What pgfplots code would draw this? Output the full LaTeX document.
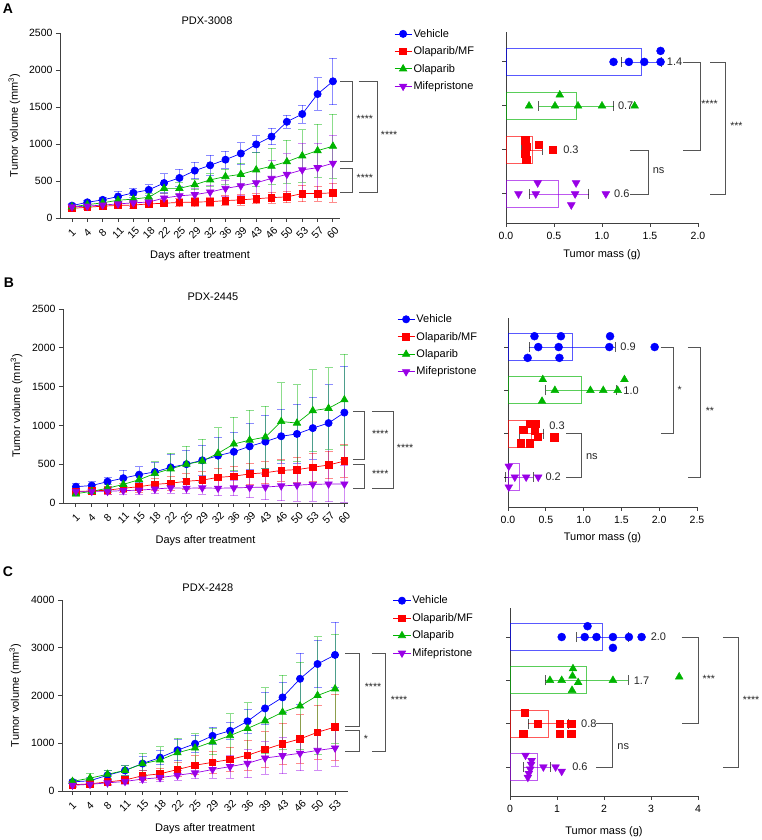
\documentclass[border=0pt]{standalone}
\usepackage{fontspec}
\setmainfont{Liberation Sans}
\usepackage{pgfplots}
\usepackage{pgfplotstable}
\pgfplotsset{compat=1.18}
\definecolor{cveh}{RGB}{0,0,255}
\definecolor{cmf}{RGB}{255,0,0}
\definecolor{cola}{RGB}{0,180,0}
\definecolor{cmife}{RGB}{153,0,230}
\definecolor{cbr}{RGB}{85,85,85}

\pgfplotstableread{
i veh vehsd mf mfsd ola olasd mife mifesd
0 167 25 130 30 150 30 150 30
1 212 25 145 30 180 30 160 30
2 245 35 160 35 205 35 175 35
3 290 70 170 40 240 40 190 40
4 340 60 175 40 255 45 205 45
5 380 70 190 45 280 50 215 50
6 473 126 200 50 400 70 270 60
7 541 120 210 55 400 80 300 70
8 640 112 215 60 450 70 315 80
9 712 139 220 60 515 85 350 90
10 788 113 235 65 560 100 400 110
11 872 145 245 70 590 150 435 130
12 995 115 260 70 650 230 475 170
13 1100 112 275 75 700 240 535 240
14 1300 90 285 80 760 290 590 280
15 1405 122 330 110 840 355 650 360
16 1675 220 330 100 910 360 680 330
17 1847 315 340 130 970 435 740 380
}\dataA

\pgfplotstableread{
i veh vehsd mf mfsd ola olasd mife mifesd
0 210 40 150 30 120 30 150 30
1 225 50 155 40 150 40 150 30
2 275 60 165 50 190 50 150 40
3 320 100 190 60 240 60 160 50
4 365 105 210 70 300 80 165 50
5 400 120 240 80 380 150 180 60
6 460 170 255 90 440 200 195 70
7 500 180 280 100 500 230 190 70
8 550 195 295 110 540 280 195 80
9 610 240 330 120 640 330 190 95
10 660 250 345 130 760 345 195 100
11 730 295 375 140 810 385 200 130
12 790 340 390 140 850 400 205 165
13 860 345 420 140 1050 500 220 190
14 890 380 430 160 1030 495 230 210
15 965 400 460 180 1190 525 240 215
16 1030 495 490 180 1220 525 245 230
17 1165 600 540 210 1330 585 245 235
}\dataB

\pgfplotstableread{
i veh vehsd mf mfsd ola olasd mife mifesd
0 190 40 130 40 200 50 120 40
1 215 60 150 50 270 100 140 50
2 330 90 190 60 350 90 170 60
3 430 100 230 70 430 100 200 70
4 575 150 320 100 570 220 250 80
5 700 150 360 120 650 280 280 90
6 855 220 450 150 800 300 330 100
7 990 180 540 200 900 300 380 120
8 1155 175 600 230 1030 270 450 180
9 1260 180 660 260 1160 460 510 240
10 1460 250 750 310 1310 540 580 300
11 1730 340 870 370 1470 690 690 340
12 1960 320 990 430 1650 780 740 380
13 2350 540 1090 510 1780 920 790 370
14 2660 500 1230 570 2000 1230 850 410
15 2850 680 1340 690 2140 1140 900 380
}\dataC

\pgfplotsset{
  base/.style={scale only axis, anchor=south west, axis lines=left,
    axis line style={-, line width=0.9pt, black!75},
    tick style={line width=0.9pt, black!75}, tick align=outside, major tick length=4pt,
    tick label style={font=\fontsize{10.5}{12}\selectfont},
    label style={font=\fontsize{11}{13}\selectfont},
    clip=false,
    /pgf/number format/assume math mode=true, /pgf/number format/1000 sep={}},
  linep/.style={base, ymin=0,
    xlabel={Days after treatment}, ylabel={Tumor volume (mm\textsuperscript{3})},
    xlabel style={at={(axis description cs:0.5,0)}, anchor=center, yshift=-38pt},
    ylabel style={at={(axis description cs:-0.163,0.5)}, anchor=center, rotate=0},
    x tick label style={rotate=45, anchor=center, xshift=-7.5pt, yshift=-7.5pt},
    title style={anchor=base, yshift=2pt, font=\fontsize{11}{13}\selectfont},
    legend cell align=left,
    legend style={anchor=north west, draw=none, fill=none, inner sep=0pt,
      font=\fontsize{11}{13}\selectfont, row sep=5pt, nodes={inner sep=1.5pt}}},
  barp/.style={base, ytick={0,1,2,3}, yticklabels={,,,,}, xmin=0,
    x tick label style={yshift=-2pt},
    xlabel={Tumor mass (g)},
    xlabel style={at={(axis description cs:0.5,0)}, anchor=center}},
  sveh/.style={color=cveh, line width=0.7pt, mark=*, mark size=3.6pt, mark options={solid, fill=cveh},
    error bars/.cd, y dir=both, y explicit, error bar style={line width=0.9pt, draw opacity=0.45},
    error mark options={rotate=90, line width=0.9pt, mark size=4pt, draw opacity=0.45}},
  smf/.style={color=cmf, line width=0.7pt, mark=square*, mark size=3.3pt, mark options={solid, fill=cmf},
    error bars/.cd, y dir=both, y explicit, error bar style={line width=0.9pt, draw opacity=0.45},
    error mark options={rotate=90, line width=0.9pt, mark size=4pt, draw opacity=0.45}},
  sola/.style={color=cola, line width=0.7pt, mark=triangle*, mark size=4.2pt, mark options={solid, fill=cola},
    error bars/.cd, y dir=both, y explicit, error bar style={line width=0.9pt, draw opacity=0.45},
    error mark options={rotate=90, line width=0.9pt, mark size=4pt, draw opacity=0.45}},
  smife/.style={color=cmife, line width=0.7pt, mark=triangle*, mark size=4.2pt, mark options={solid, fill=cmife, rotate=180},
    error bars/.cd, y dir=both, y explicit, error bar style={line width=0.9pt, draw opacity=0.45},
    error mark options={rotate=90, line width=0.9pt, mark size=4pt, draw opacity=0.45}},
  bbar/.style={xbar, bar shift=0pt, bar width=27pt, draw=#1, draw opacity=0.65, fill=none, line width=0.8pt,
    error bars/.cd, x dir=both, x explicit, error bar style={line width=0.8pt, draw opacity=0.65},
    error mark options={rotate=90, line width=0.8pt, mark size=5pt, draw opacity=0.65}},
  bpt/.style={only marks, color=#1, mark options={solid, fill=#1}},
}
\tikzset{sig/.style={font=\fontsize{10.5}{12}\selectfont, text=black!85},
  brk/.style={cbr, line width=0.8pt}}

\begin{document}
\begin{tikzpicture}
\path[use as bounding box] (0,0) rectangle (762pt,840pt);
\node[font=\fontsize{14}{16}\selectfont\bfseries] at (8pt,831pt) {A};
\node[font=\fontsize{14}{16}\selectfont\bfseries] at (9pt,557pt) {B};
\node[font=\fontsize{14}{16}\selectfont\bfseries] at (8pt,268pt) {C};

% ---------------- A line ----------------
\begin{axis}[linep, at={(60pt,622pt)}, width=280pt, height=185pt,
  xmin=-0.78, xmax=17.46, ymax=2500, ytick={0,500,...,2500},
  xtick={0,...,17}, xticklabels={1,4,8,11,15,18,22,25,29,32,36,39,43,46,50,53,57,60},
  title={PDX-3008}, title style={at={(axis description cs:0.525,1)}},
  legend style={at={(1.193,1.03)}}]
\addplot[sveh] table[x=i, y=veh, y error=vehsd]{\dataA}; \addlegendentry{Vehicle}
\addplot[smf] table[x=i, y=mf, y error=mfsd]{\dataA}; \addlegendentry{Olaparib/MF}
\addplot[sola] table[x=i, y=ola, y error=olasd]{\dataA}; \addlegendentry{Olaparib}
\addplot[smife] table[x=i, y=mife, y error=mifesd]{\dataA}; \addlegendentry{Mifepristone}
\draw[brk] (axis cs:17.46,1845) -- (axis cs:18.24,1845) -- (axis cs:18.24,760) -- (axis cs:17.46,760);
\draw[brk] (axis cs:17.46,675) -- (axis cs:18.24,675) -- (axis cs:18.24,345) -- (axis cs:17.46,345);
\draw[brk] (axis cs:18.69,1845) -- (axis cs:19.87,1845) -- (axis cs:19.87,345) -- (axis cs:18.69,345);
\node[sig] at (axis cs:19.08,1338) {****};
\node[sig] at (axis cs:19.08,540) {****};
\node[sig] at (axis cs:20.66,1121) {****};
\end{axis}

% ---------------- A bar ----------------
\begin{axis}[barp, at={(506pt,617pt)}, width=192pt, height=191pt,
  xmax=2, ymin=-0.66, ymax=3.68, xtick={0,0.5,...,2},
  xticklabel style={/pgf/number format/fixed, /pgf/number format/precision=1, /pgf/number format/fixed zerofill},
  xlabel style={yshift=-32pt}]
\addplot[bbar=cveh] coordinates {(1.41,3) +- (0.21,0)};
\addplot[bbar=cola] coordinates {(0.73,2) +- (0.39,0)};
\addplot[bbar=cmf] coordinates {(0.27,1) +- (0.11,0)};
\addplot[bbar=cmife] coordinates {(0.55,0) +- (0.31,0)};
\addplot[bpt=cveh, mark=*, mark size=4pt] coordinates {(1.12,3) (1.28,3) (1.44,3) (1.61,3) (1.61,3.25)};
\addplot[bpt=cola, mark=triangle*, mark size=4.5pt] coordinates {(0.24,2) (0.56,2.25) (0.51,2) (0.75,2) (1.0,2) (1.34,2)};
\addplot[bpt=cmf, mark=square*, mark size=3.6pt] coordinates {(0.2,1.22) (0.21,1.08) (0.2,0.92) (0.21,0.78) (0.34,1.12) (0.49,1.0)};
\addplot[bpt=cmife, mark=triangle*, mark size=4.5pt, mark options={rotate=180}] coordinates {(0.13,0) (0.33,0.25) (0.31,0) (0.73,0.25) (0.72,0) (0.68,-0.25) (1.04,0)};
\node[sig, anchor=west, font=\fontsize{11}{13}\selectfont] at (axis cs:1.64,3) {1.4};
\node[sig, anchor=west, font=\fontsize{11}{13}\selectfont] at (axis cs:1.13,2) {0.7};
\node[sig, anchor=west, font=\fontsize{11}{13}\selectfont] at (axis cs:0.56,1) {0.3};
\node[sig, anchor=west, font=\fontsize{11}{13}\selectfont] at (axis cs:1.09,0) {0.6};
\draw[brk] (axis cs:1.84,3) -- (axis cs:2.02,3) -- (axis cs:2.02,1) -- (axis cs:1.84,1);
\draw[brk] (axis cs:2.13,3) -- (axis cs:2.29,3) -- (axis cs:2.29,0) -- (axis cs:2.13,0);
\draw[brk] (axis cs:1.29,1) -- (axis cs:1.48,1) -- (axis cs:1.48,0) -- (axis cs:1.29,0);
\node[sig] at (axis cs:2.12,2.05) {****};
\node[sig] at (axis cs:2.40,1.55) {***};
\node[sig, font=\fontsize{11}{13}\selectfont] at (axis cs:1.59,0.52) {ns};
\end{axis}

% ---------------- B line ----------------
\begin{axis}[linep, at={(63pt,337pt)}, width=285pt, height=194pt,
  xmin=-0.82, xmax=17.23, ymax=2500, ytick={0,500,...,2500},
  xtick={0,...,17}, xticklabels={1,4,8,11,15,18,22,25,29,32,36,39,43,46,50,53,57,60},
  title={PDX-2445}, title style={at={(axis description cs:0.526,1)}},
  legend style={at={(1.172,0.98)}}]
\addplot[sveh] table[x=i, y=veh, y error=vehsd]{\dataB}; \addlegendentry{Vehicle}
\addplot[smf] table[x=i, y=mf, y error=mfsd]{\dataB}; \addlegendentry{Olaparib/MF}
\addplot[sola] table[x=i, y=ola, y error=olasd]{\dataB}; \addlegendentry{Olaparib}
\addplot[smife] table[x=i, y=mife, y error=mifesd]{\dataB}; \addlegendentry{Mifepristone}
\draw[brk] (axis cs:17.55,1180) -- (axis cs:18.25,1180) -- (axis cs:18.25,560) -- (axis cs:17.55,560);
\draw[brk] (axis cs:17.55,500) -- (axis cs:18.25,500) -- (axis cs:18.25,193) -- (axis cs:17.55,193);
\draw[brk] (axis cs:18.76,1180) -- (axis cs:20.09,1180) -- (axis cs:20.09,193) -- (axis cs:18.76,193);
\node[sig] at (axis cs:19.27,889) {****};
\node[sig] at (axis cs:19.27,374) {****};
\node[sig] at (axis cs:20.85,709) {****};
\end{axis}

% ---------------- B bar ----------------
\begin{axis}[barp, at={(508pt,333pt)}, width=189pt, height=189pt,
  xmax=2.5, ymin=-0.69, ymax=3.67, xtick={0,0.5,...,2.5},
  xticklabel style={/pgf/number format/fixed, /pgf/number format/precision=1, /pgf/number format/fixed zerofill},
  xlabel style={yshift=-31pt}]
\addplot[bbar=cveh] coordinates {(0.85,3) +- (0.57,0)};
\addplot[bbar=cola] coordinates {(0.97,2) +- (0.47,0)};
\addplot[bbar=cmf] coordinates {(0.31,1) +- (0.16,0)};
\addplot[bbar=cmife] coordinates {(0.15,0) +- (0.18,0)};
\addplot[bpt=cveh, mark=*, mark size=4pt] coordinates {(0.26,2.75) (0.35,3.25) (0.40,3) (0.67,3) (0.70,3.25) (0.68,2.75) (1.34,3) (1.35,3.25) (1.94,3)};
\addplot[bpt=cola, mark=triangle*, mark size=4.5pt] coordinates {(0.46,2.25) (0.45,1.75) (0.62,2) (1.09,2) (1.26,2) (1.45,2) (1.54,2.25)};
\addplot[bpt=cmf, mark=square*, mark size=3.6pt] coordinates {(0.29,1.24) (0.37,1.24) (0.20,1.1) (0.35,1.08) (0.39,0.93) (0.17,0.78) (0.29,0.78) (0.61,0.92)};
\addplot[bpt=cmife, mark=triangle*, mark size=4.5pt, mark options={rotate=180}] coordinates {(0.01,0.25) (0.09,0) (0.24,0) (0.40,0) (0.01,-0.23)};
\node[sig, anchor=west, font=\fontsize{11}{13}\selectfont] at (axis cs:1.44,3) {0.9};
\node[sig, anchor=west, font=\fontsize{11}{13}\selectfont] at (axis cs:1.48,2) {1.0};
\node[sig, anchor=west, font=\fontsize{11}{13}\selectfont] at (axis cs:0.50,1.19) {0.3};
\node[sig, anchor=west, font=\fontsize{11}{13}\selectfont] at (axis cs:0.45,0) {0.2};
\draw[brk] (axis cs:2.02,3) -- (axis cs:2.19,3) -- (axis cs:2.19,1) -- (axis cs:2.02,1);
\draw[brk] (axis cs:2.38,3) -- (axis cs:2.55,3) -- (axis cs:2.55,0) -- (axis cs:2.38,0);
\draw[brk] (axis cs:0.77,1) -- (axis cs:0.97,1) -- (axis cs:0.97,0) -- (axis cs:0.77,0);
\node[sig] at (axis cs:2.27,2.0) {*};
\node[sig] at (axis cs:2.67,1.52) {**};
\node[sig, font=\fontsize{11}{13}\selectfont] at (axis cs:1.11,0.48) {ns};
\end{axis}

% ---------------- C line ----------------
\begin{axis}[linep, at={(62pt,49pt)}, width=286pt, height=191pt,
  xmin=-0.6, xmax=15.74, ymax=4000, ytick={0,1000,...,4000},
  xtick={0,...,15}, xticklabels={1,4,8,11,15,18,22,25,29,32,36,39,43,46,50,53},
  title={PDX-2428}, title style={at={(axis description cs:0.51,1)}},
  legend style={at={(1.157,1.03)}}]
\addplot[sveh] table[x=i, y=veh, y error=vehsd]{\dataC}; \addlegendentry{Vehicle}
\addplot[smf] table[x=i, y=mf, y error=mfsd]{\dataC}; \addlegendentry{Olaparib/MF}
\addplot[sola] table[x=i, y=ola, y error=olasd]{\dataC}; \addlegendentry{Olaparib}
\addplot[smife] table[x=i, y=mife, y error=mifesd]{\dataC}; \addlegendentry{Mifepristone}
\draw[brk] (axis cs:15.57,2880) -- (axis cs:16.37,2880) -- (axis cs:16.37,1357) -- (axis cs:15.57,1357);
\draw[brk] (axis cs:15.57,1259) -- (axis cs:16.37,1259) -- (axis cs:16.37,839) -- (axis cs:15.57,839);
\draw[brk] (axis cs:17.11,2880) -- (axis cs:17.86,2880) -- (axis cs:17.86,839) -- (axis cs:17.11,839);
\node[sig] at (axis cs:17.17,2178) {****};
\node[sig] at (axis cs:16.77,1089) {*};
\node[sig] at (axis cs:18.66,1905) {****};
\end{axis}

% ---------------- C bar ----------------
\begin{axis}[barp, at={(510pt,44pt)}, width=188pt, height=188pt,
  xmax=4, ymin=-0.67, ymax=3.67, xtick={0,1,2,3,4},
  xlabel style={yshift=-36pt}]
\addplot[bbar=cveh] coordinates {(1.97,3) +- (0.55,0)};
\addplot[bbar=cola] coordinates {(1.63,2) +- (0.88,0)};
\addplot[bbar=cmf] coordinates {(0.82,1) +- (0.43,0)};
\addplot[bbar=cmife] coordinates {(0.58,0) +- (0.29,0)};
\addplot[bpt=cveh, mark=*, mark size=4pt] coordinates {(1.10,3) (1.59,3) (1.65,3.25) (1.84,3) (2.19,3) (2.19,2.75) (2.53,3) (2.80,3)};
\addplot[bpt=cola, mark=triangle*, mark size=4.5pt] coordinates {(0.85,2) (1.10,2) (1.34,2.27) (1.33,2.1) (1.45,1.95) (1.32,1.77) (2.19,2) (3.60,2.08)};
\addplot[bpt=cmf, mark=square*, mark size=3.6pt] coordinates {(0.31,1.25) (0.28,0.76) (0.59,1) (1.05,1) (1.05,0.76) (1.30,1) (1.30,0.76)};
\addplot[bpt=cmife, mark=triangle*, mark size=4.5pt, mark options={rotate=180}] coordinates {(0.33,0.27) (0.46,0.15) (0.45,0.06) (0.43,-0.05) (0.40,-0.15) (0.38,-0.24) (0.71,0) (0.97,0) (1.10,-0.1)};
\node[sig, anchor=west, font=\fontsize{11}{13}\selectfont] at (axis cs:2.92,3) {2.0};
\node[sig, anchor=west, font=\fontsize{11}{13}\selectfont] at (axis cs:2.56,2) {1.7};
\node[sig, anchor=west, font=\fontsize{11}{13}\selectfont] at (axis cs:1.44,1) {0.8};
\node[sig, anchor=west, font=\fontsize{11}{13}\selectfont] at (axis cs:1.25,0) {0.6};
\draw[brk] (axis cs:3.65,3) -- (axis cs:4.0,3) -- (axis cs:4.0,1) -- (axis cs:3.65,1);
\draw[brk] (axis cs:4.53,3) -- (axis cs:4.85,3) -- (axis cs:4.85,0) -- (axis cs:4.53,0);
\draw[brk] (axis cs:1.84,1) -- (axis cs:2.17,1) -- (axis cs:2.17,0) -- (axis cs:1.84,0);
\node[sig] at (axis cs:4.23,2.03) {***};
\node[sig] at (axis cs:5.13,1.55) {****};
\node[sig, font=\fontsize{11}{13}\selectfont] at (axis cs:2.41,0.46) {ns};
\end{axis}
\end{tikzpicture}
\end{document}
